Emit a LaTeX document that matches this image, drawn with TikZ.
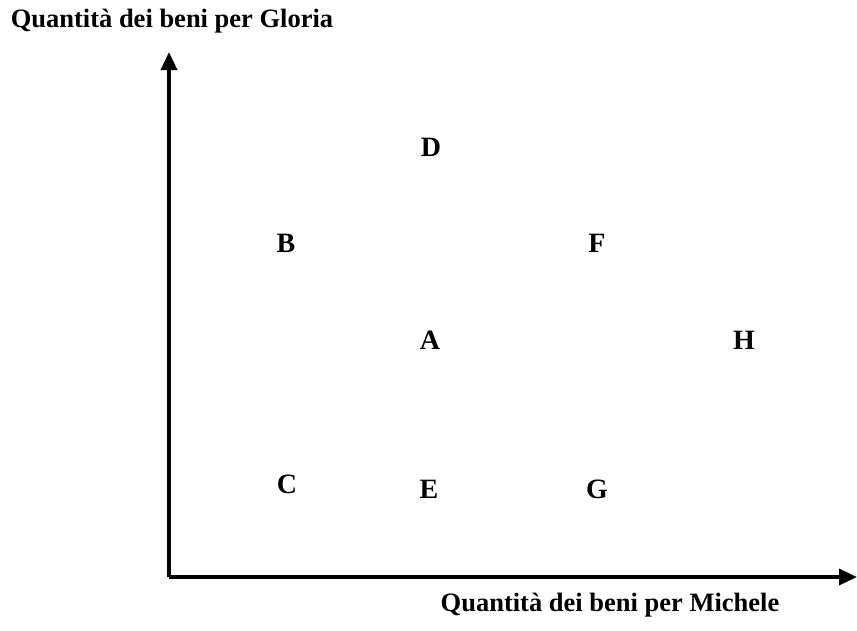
\documentclass[tikz,border=0pt]{standalone}
\usepackage{fontspec}
\setmainfont{Liberation Serif}
\usetikzlibrary{arrows.meta}
\begin{document}
\begin{tikzpicture}[x=1pt,y=-1pt,
  axis/.style={line width=3.5pt,-{Triangle[width=16pt,length=18pt]}},
  pt/.style={font=\fontsize{28}{32}\selectfont\bfseries,inner sep=0pt},
  lbl/.style={font=\fontsize{26.5}{30}\selectfont\bfseries,inner sep=0pt}]
\useasboundingbox (0,0) rectangle (857,630);
\coordinate (O) at (169,577);
\coordinate (Ytop) at (169,52);
\coordinate (Xend) at (857,577);
\draw[axis] (O) -- (Ytop);
\draw[axis] (O) -- (Xend);
\node[lbl] (ylab) at (172,21) {Quantità dei beni per Gloria};
\node[lbl] (xlab) at (610,605) {Quantità dei beni per Michele};
\node[pt] (D) at (431,147) {D};
\node[pt] (B) at (286,243) {B};
\node[pt] (F) at (597,243) {F};
\node[pt] (A) at (430,340) {A};
\node[pt] (H) at (744,340) {H};
\node[pt] (C) at (287,484) {C};
\node[pt] (E) at (429,489) {E};
\node[pt] (G) at (597,489) {G};
\end{tikzpicture}
\end{document}
